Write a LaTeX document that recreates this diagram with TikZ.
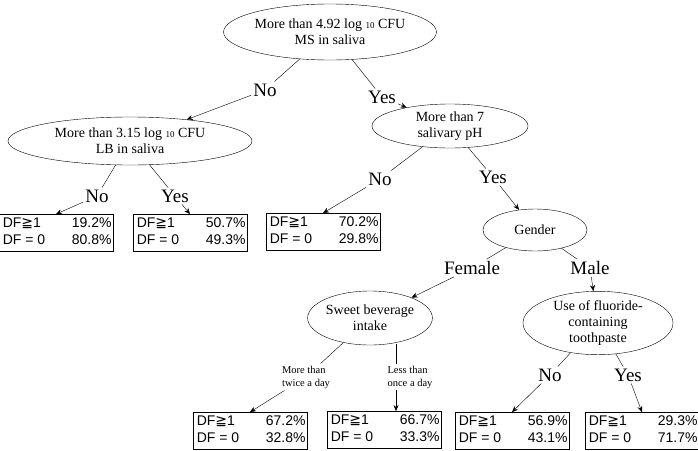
\documentclass[tikz,border=0pt]{standalone}
\usepackage{fontspec}
\setmainfont{Liberation Serif}
\newfontfamily\boxfont{Liberation Sans}
\newfontfamily\symfont{DejaVu Sans}
\usetikzlibrary{shapes.geometric,arrows.meta}
\begin{document}
\begin{tikzpicture}[x=1pt,y=-1pt,
  el/.style={ellipse,draw,inner sep=0pt,align=center,font=\fontsize{14}{16}\selectfont},
  lf/.style={draw,thick,inner sep=1.5pt,font=\boxfont\fontsize{14}{17}\selectfont},
  lab/.style={font=\fontsize{19}{19}\selectfont,inner sep=2pt},
  sm/.style={font=\fontsize{10.5}{13}\selectfont,align=left,inner sep=2pt},
  ln/.style={draw,thin},
  ar/.style={draw,thin,-{Stealth[length=6pt,width=5pt]}}]
\useasboundingbox (0,0) rectangle (698,450);
\newcommand{\leafbox}[2]{\begin{tabular}{@{\,}l@{\hspace{1.9em}}r@{}}DF{\symfont≧}1 & #1\\ DF = 0 & #2\end{tabular}}
\node[el,minimum width=196,minimum height=56] (root) at (330,32) {More than 4.92 log {\fontsize{9}{9}\selectfont 10} CFU\\MS in saliva};
\node[el,minimum width=244,minimum height=48] (lb) at (130,141) {More than 3.15 log {\fontsize{9}{9}\selectfont 10} CFU\\LB in saliva};
\node[el,minimum width=156,minimum height=44] (ph) at (450,126) {More than 7\\salivary pH};
\node[el,minimum width=104,minimum height=42] (gen) at (535,230) {Gender};
\node[el,minimum width=100,minimum height=54] (sw) at (370,318) {Sweet beverage\\intake};
\node[el,minimum width=150,minimum height=58] (fl) at (598,323) {Use of fluoride-\\containing\\toothpaste};
\node[lf] (l1) at (56,233) {\leafbox{19.2\%}{80.8\%}};
\node[lf] (l2) at (190,233) {\leafbox{50.7\%}{49.3\%}};
\node[lf] (l3) at (323,232) {\leafbox{70.2\%}{29.8\%}};
\node[lf] (l4) at (250,431) {\leafbox{67.2\%}{32.8\%}};
\node[lf] (l5) at (384,430) {\leafbox{66.7\%}{33.3\%}};
\node[lf] (l6) at (512,431) {\leafbox{56.9\%}{43.1\%}};
\node[lf] (l7) at (642,431) {\leafbox{29.3\%}{71.7\%}};
\node[lab] (n1) at (265,90) {No};
\node[lab] (y1) at (382,97) {Yes};
\node[lab] (n2) at (97,196) {No};
\node[lab] (y2) at (175,196) {Yes};
\node[lab] (n3) at (380,179) {No};
\node[lab] (y3) at (493,177) {Yes};
\node[lab] (fe) at (472,268) {Female};
\node[lab] (ma) at (590,268) {Male};
\node[sm] (tw) at (306,377) {More than\\twice a day};
\node[sm] (on) at (410,377) {Less than\\once a day};
\node[lab] (n4) at (550,375) {No};
\node[lab] (y4) at (628,375) {Yes};
\draw[ln] (root) -- (n1); \draw[ar] (n1) -- (lb);
\draw[ln] (root) -- (y1); \draw[ar] (y1) -- (ph);
\draw[ln] (lb) -- (n2); \draw[ar] (n2) -- (l1.north);
\draw[ln] (lb) -- (y2); \draw[ar] (y2) -- (l2.north);
\draw[ln] (ph) -- (n3); \draw[ar] (n3) -- (l3.north);
\draw[ln] (ph) -- (y3); \draw[ar] (y3) -- (gen);
\draw[ln] (gen) -- (fe); \draw[ar] (fe) -- (sw);
\draw[ln] (gen) -- (ma); \draw[ar] (ma) -- (fl);
\draw[ln] (sw) -- (tw); \draw[ar] (tw) -- (l4.north);
\coordinate (c1) at (396,344);
\draw[ln] (c1) -- (c1 |- on.north); \draw[ar] (c1 |- on.south) -- (c1 |- l5.north);
\draw[ln] (fl) -- (n4); \draw[ar] (n4) -- (l6.north);
\draw[ln] (fl) -- (y4); \draw[ar] (y4) -- (l7.north);
\end{tikzpicture}
\end{document}
